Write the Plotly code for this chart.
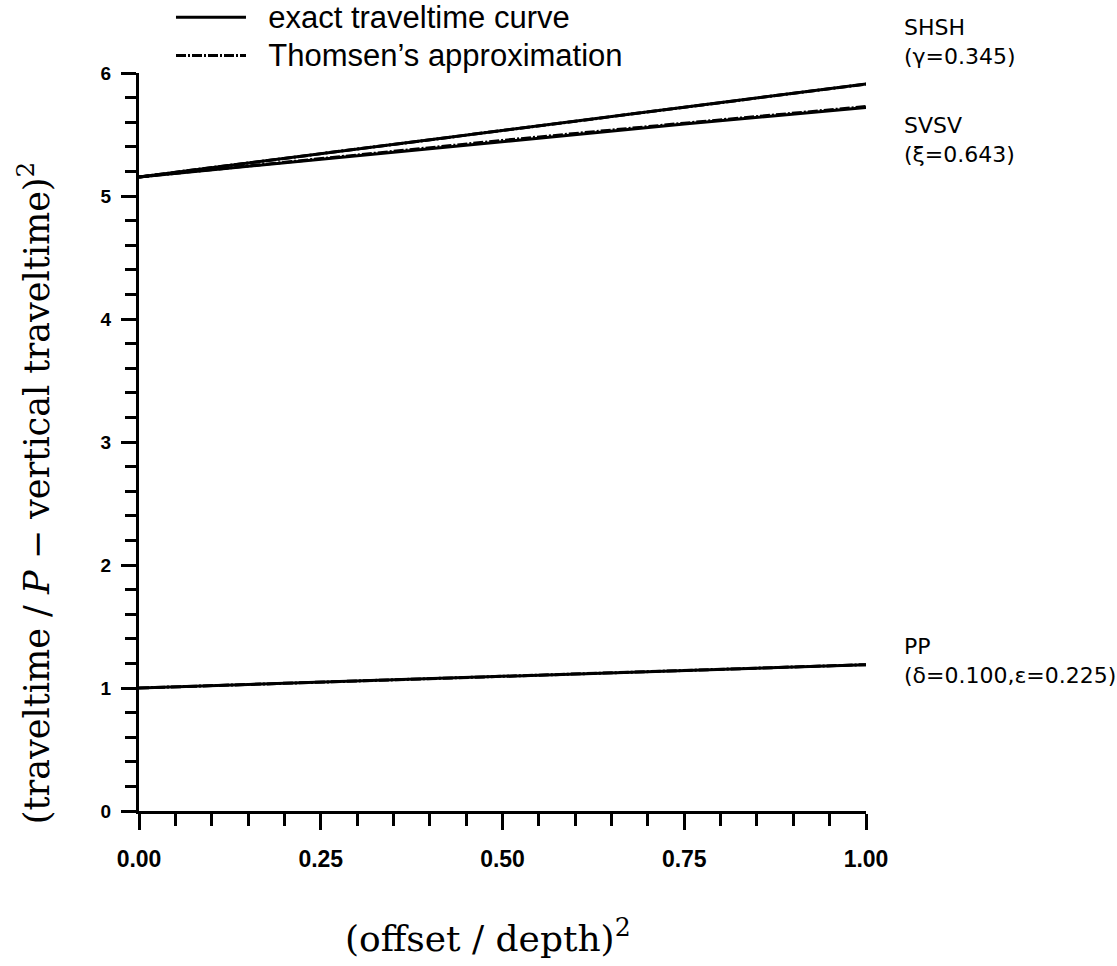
import plotly.graph_objects as go

# ---- data ----
offset_sq = [0.0, 0.25, 0.50, 0.75, 1.00]

pp_exact = [1.000, 1.048, 1.095, 1.143, 1.190]
pp_thomsen = [1.000, 1.048, 1.095, 1.143, 1.190]

shsh_exact = [5.155, 5.345, 5.535, 5.722, 5.910]
shsh_thomsen = [5.155, 5.345, 5.535, 5.722, 5.910]

svsv_exact = [5.155, 5.300, 5.445, 5.585, 5.720]
svsv_thomsen = [5.155, 5.306, 5.452, 5.592, 5.727]

x_tickvals = [0.0, 0.25, 0.50, 0.75, 1.00]
x_ticktext = ["0.00", "0.25", "0.50", "0.75", "1.00"]
y_tickvals = [0, 1, 2, 3, 4, 5, 6]

labels = [
    ("SHSH<br>(γ=0.345)", shsh_exact[-1], 42),
    ("SVSV<br>(ξ=0.643)", svsv_exact[-1], -33),
    ("PP<br>(δ=0.100,ε=0.225)", pp_exact[-1], 4),
]

LINE_W = 3
fig = go.Figure()

series = [
    ("PP", pp_exact, pp_thomsen),
    ("SHSH", shsh_exact, shsh_thomsen),
    ("SVSV", svsv_exact, svsv_thomsen),
]
NB = "\u00a0" * 2


def legend_name(s):
    return '<span style="font-size:31px">' + NB + s + "</span>"


for i, (name, ex, th) in enumerate(series):
    fig.add_trace(go.Scatter(
        x=offset_sq, y=th, mode="lines",
        line=dict(color="black", width=LINE_W, dash="10px,2px,2px,2px"),
        name=legend_name("Thomsen’s approximation"), legendgroup="b",
        showlegend=(i == 0), legendrank=2))
    fig.add_trace(go.Scatter(
        x=offset_sq, y=ex, mode="lines",
        line=dict(color="black", width=LINE_W),
        name=legend_name("exact traveltime curve"), legendgroup="a",
        showlegend=(i == 0), legendrank=1))

for text, yv, ysh in labels:
    fig.add_annotation(
        x=1.0, y=yv, xref="x", yref="y", text=text, showarrow=False,
        xanchor="left", yanchor="middle", xshift=36, yshift=ysh,
        align="left",
        font=dict(family="DejaVu Sans", size=22, color="black"))

serif = "DejaVu Serif"
fig.add_annotation(
    x=-0.145, y=0.43, xref="paper", yref="paper",
    text="(traveltime / <i>P</i> − vertical traveltime)<sup>2</sup>",
    textangle=-90, showarrow=False, xanchor="center", yanchor="middle",
    font=dict(family=serif, size=35, color="black"))
fig.add_annotation(
    x=0.48, y=-0.135, xref="paper", yref="paper",
    text="(offset / depth)<sup>2</sup>",
    showarrow=False, xanchor="center", yanchor="top",
    font=dict(family=serif, size=36, color="black"))

axis_common = dict(
    showgrid=False, zeroline=False, showline=True, linecolor="black",
    linewidth=3, ticks="outside", tickcolor="black", tickwidth=3,
)

fig.update_xaxes(
    range=[0, 1], tickvals=x_tickvals, ticktext=x_ticktext, ticklen=16,
    ticklabelstandoff=9,
    tickfont=dict(family="Liberation Sans", size=23, color="black",
                  weight="bold"),
    minor=dict(dtick=0.05, ticks="outside", ticklen=12, tickwidth=3,
               tickcolor="black", showgrid=False),
    **axis_common)
fig.update_yaxes(
    range=[0, 6], tickvals=y_tickvals, ticklen=15, ticklabelstandoff=6,
    tickfont=dict(family="Liberation Sans", size=19, color="black",
                  weight="bold"),
    minor=dict(dtick=0.2, ticks="outside", ticklen=11, tickwidth=3,
               tickcolor="black", showgrid=False),
    **axis_common)

fig.update_layout(
    width=1117, height=966,
    margin=dict(l=139, r=251, t=73, b=155, autoexpand=False),
    paper_bgcolor="white", plot_bgcolor="white",
    showlegend=True,
    legend=dict(x=0.044, y=1.108, xanchor="left", yanchor="top",
                bgcolor="rgba(0,0,0,0)", itemwidth=70, tracegroupgap=0,
                font=dict(family="Liberation Sans", size=27, color="black")),
)

fig.write_html("out.html")
